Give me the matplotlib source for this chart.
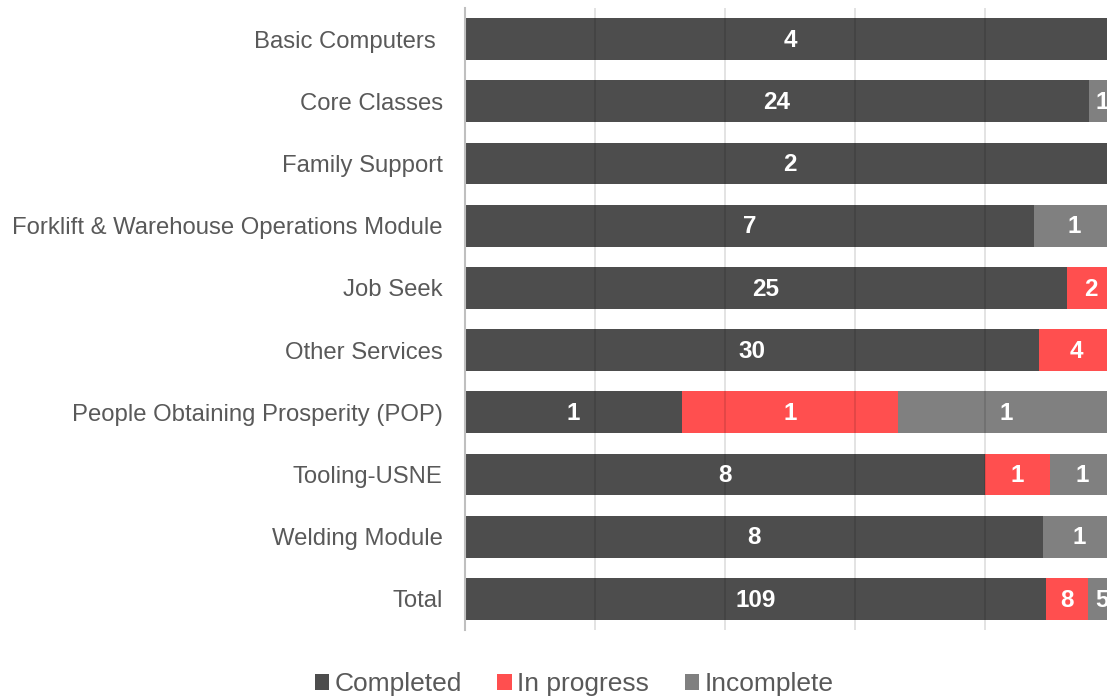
import numpy as np
import matplotlib.pyplot as plt

plt.rcParams['font.family'] = ['Liberation Sans', 'DejaVu Sans']

categories = ["Basic Computers ", "Core Classes", "Family Support",
              "Forklift & Warehouse Operations Module", "Job Seek",
              "Other Services", "People Obtaining Prosperity (POP)",
              "Tooling-USNE", "Welding Module", "Total"]
completed = [4, 24, 2, 7, 25, 30, 1, 8, 8, 109]
in_progress = [0, 0, 0, 0, 2, 4, 1, 1, 0, 8]
incomplete = [0, 1, 0, 1, 0, 0, 1, 1, 1, 5]

series = [("Completed", completed, "#4d4d4d"),
          ("In progress", in_progress, "#ff4f4f"),
          ("Incomplete", incomplete, "#808080")]

totals = np.array(completed) + np.array(in_progress) + np.array(incomplete)
y = np.arange(len(categories))

fig = plt.figure(figsize=(11.07, 6.98), dpi=100)
ax = fig.add_axes([465 / 1107, 1 - 630 / 698, 1 - 465 / 1107, 622 / 698])

left = np.zeros(len(categories))
for name, vals, col in series:
    frac = np.array(vals) / totals
    ax.barh(y, frac, left=left, height=0.675, color=col, label=name, zorder=1)
    for i, v in enumerate(vals):
        if v > 0:
            ax.text(left[i] + frac[i] / 2, y[i] + 0.02, str(v), ha='center', va='center',
                    color='white', fontsize=17.5, fontweight='bold', zorder=3)
    left += frac

ax.set_ylim(len(categories) - 0.5, -0.5)
ax.set_xlim(0, 642 / 650)
ax.set_yticks(y)
ax.set_yticklabels(categories, fontsize=17.2, color='#595959')
ax.tick_params(axis='y', length=0, pad=16)
ax.tick_params(axis='x', length=0, labelbottom=False)
ax.set_xticks([0.2, 0.4, 0.6, 0.8])
ax.grid(axis='x', color='black', alpha=0.13, linewidth=1.2, zorder=2)
ax.set_axisbelow(False)
for s in ['top', 'right', 'bottom']:
    ax.spines[s].set_visible(False)
ax.spines['left'].set_color('#bfbfbf')
ax.spines['left'].set_linewidth(1.5)
ax.spines['left'].set_zorder(2)

fig.legend(loc='center', bbox_to_anchor=(574 / 1107, 1 - 684 / 698), ncol=3,
           frameon=False, fontsize=19, handlelength=0.55, handleheight=0.55,
           handletextpad=0.2, columnspacing=1.35, labelcolor='#595959')

fig.savefig("out.png", dpi=100)
